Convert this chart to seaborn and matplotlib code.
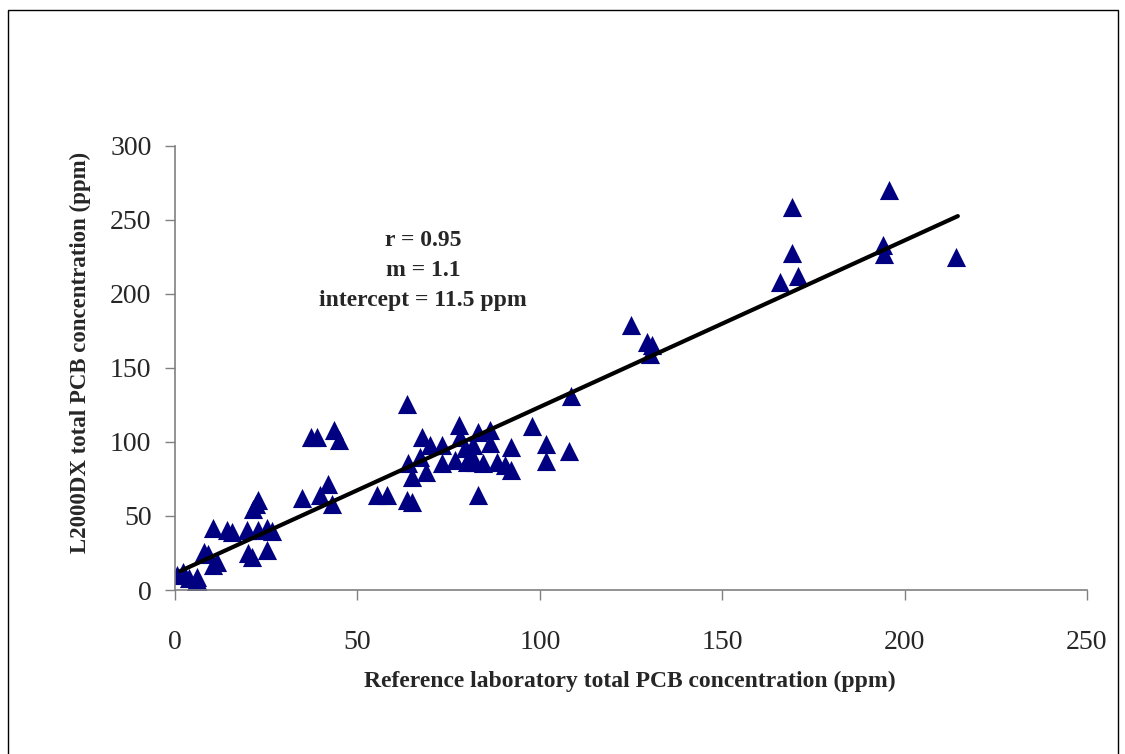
import numpy as np
import pandas as pd
import seaborn as sns
import matplotlib.pyplot as plt
from matplotlib.patches import Rectangle

# Reference lab vs L2000DX values (ppm)
ref_ppm = [0.5, 2.3, 3.7, 5.9, 5.5, 6.9, 7.8, 9.0, 10.5, 11.4,
           10.4, 14.2, 15.7, 19.6, 22.8, 25.1, 26.5, 20.0, 21.0, 25.1,
           21.4, 22.2, 22.7, 34.7, 37.3, 38.9, 43.6, 44.9, 41.9, 39.7,
           43.0, 55.4, 58.0, 63.5, 64.9, 63.6, 63.9, 64.9, 67.2, 67.6,
           68.9, 69.9, 73.1, 73.1, 76.8, 77.9, 78.1, 79.5, 79.9, 80.9,
           81.8, 82.2, 83.1, 83.1, 84.5, 86.3, 86.3, 88.2, 90.5, 92.2,
           92.2, 97.8, 101.7, 101.7, 108.0, 108.6, 125.0, 129.4, 130.7, 130.2,
           165.8, 169.1, 169.1, 170.8, 194.1, 194.3, 195.7, 214.1]
l2000_ppm = [10, 12.4, 7.9, 9, 4.7, 3, 25.9, 24.5, 17, 19,
             42, 40.5, 39.4, 40.5, 40.5, 42, 40, 25, 22.5, 27,
             55, 58, 61, 62, 103.4, 103.4, 108, 101.4, 71.6, 64,
             58, 64.5, 64.5, 60.8, 59.7, 125.7, 85.6, 76.6, 90, 103.6,
             80, 98, 98, 85.6, 87.8, 111.5, 103.6, 96, 86.7, 91,
             98, 86.7, 107, 64.2, 85.6, 108, 99, 86.7, 84.5, 96.8,
             81, 111, 98.6, 87, 94, 131, 179, 167.6, 165.5, 159.5,
             208, 258.8, 227.7, 212, 233, 227, 270, 225]

# regression line as drawn on the chart
line_slope = 1.125
line_intercept = 11.2

stats_text = "r = 0.95\nm = 1.1\nintercept = 11.5 ppm"
x_label = "Reference laboratory total PCB concentration (ppm)"
y_label = "L2000DX total PCB concentration (ppm)"

df = pd.DataFrame({'ref': ref_ppm, 'l2000': l2000_ppm})

sns.set_style('ticks')
plt.rcParams['font.family'] = ['Liberation Serif', 'DejaVu Serif']

fig = plt.figure(figsize=(11.25, 7.54), dpi=100)
ax = fig.add_axes([0.1556, 0.2175, 0.8106, 0.5889])

sns.scatterplot(data=df, x='ref', y='l2000', marker='^', s=190,
                color='#000080', edgecolor='#000080', linewidth=0, ax=ax, zorder=2)

fit_x = np.array([df['ref'].min() + 0.9, df['ref'].max() + 0.5])
sns.lineplot(x=fit_x, y=line_slope * fit_x + line_intercept, color='black',
             linewidth=3, ax=ax, zorder=3)

ax.set_xlim(0, 250)
ax.set_ylim(0, 300)
ax.set_xticks(np.arange(0, 251, 50))
ax.set_yticks(np.arange(0, 301, 50))
ax.tick_params(axis='x', labelsize=20, length=7, width=1, direction='out', pad=22, color='#808080')
ax.tick_params(axis='y', labelsize=20, length=7, width=1, direction='out', pad=10, color='#808080')
sns.despine(ax=ax)
for side in ['left', 'bottom']:
    ax.spines[side].set_color('#808080')
    ax.spines[side].set_linewidth(1.2)

ax.set_xlabel(x_label, fontsize=17, fontweight='bold')
ax.set_ylabel(y_label, fontsize=16.5, fontweight='bold')
ax.xaxis.set_label_coords(0.499, -0.205)
ax.yaxis.set_label_coords(-0.104, 0.536)
ax.xaxis.label.set_va('center')
ax.yaxis.label.set_va('center')

ax.text(68, 216, stats_text, fontsize=17, fontweight='bold', ha='center', va='center',
        linespacing=1.55)

fig.patches.append(Rectangle((0.007, -0.05), 0.987, 1.037, transform=fig.transFigure,
                             fill=False, edgecolor='black', linewidth=1, clip_on=False))

fig.savefig('out.png', dpi=100)
